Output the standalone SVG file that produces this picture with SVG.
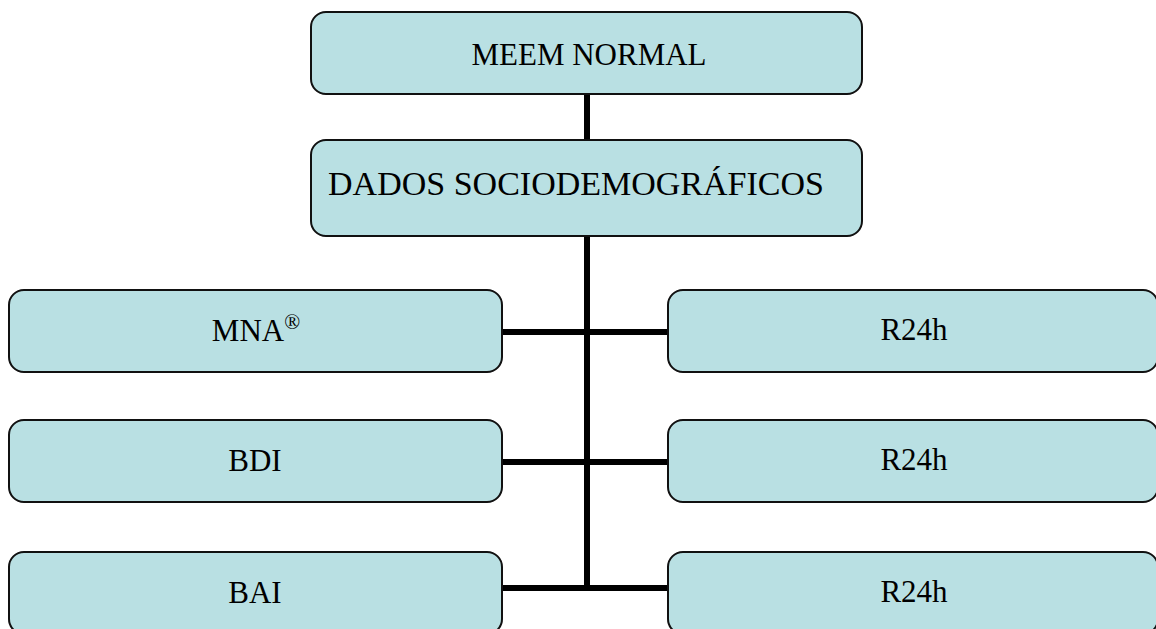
<svg xmlns="http://www.w3.org/2000/svg" width="1156" height="629" viewBox="0 0 1156 629">
<style>
.box{fill:#b9e0e3;stroke:#111;stroke-width:2}
.t{font-family:"Liberation Serif","Times New Roman",serif;font-size:31px;fill:#000;text-anchor:middle}
.big{font-size:34px}
.line{stroke:#000;stroke-width:6;fill:none}
</style>
<rect width="1156" height="629" fill="#fff"/>
<g id="connectors">
<line class="line" x1="587" y1="94" x2="587" y2="140"/>
<line class="line" x1="587" y1="236" x2="587" y2="591"/>
<line class="line" x1="502" y1="332" x2="668" y2="332"/>
<line class="line" x1="502" y1="462" x2="668" y2="462"/>
<line class="line" x1="502" y1="588" x2="668" y2="588"/>
</g>
<g id="meem">
<rect class="box" x="311" y="12" width="551" height="82" rx="15"/>
<text class="t" x="589" y="65">MEEM NORMAL</text>
</g>
<g id="dados">
<rect class="box" x="311" y="140" width="551" height="96" rx="15"/>
<text class="t big" x="576" y="195">DADOS SOCIODEMOGRÁFICOS</text>
</g>
<g id="mna">
<rect class="box" x="9" y="290" width="493" height="82" rx="15"/>
<text class="t" x="256" y="341">MNA<tspan font-size="21" dy="-12">®</tspan></text>
</g>
<g id="bdi">
<rect class="box" x="9" y="420" width="493" height="82" rx="15"/>
<text class="t" x="255" y="471">BDI</text>
</g>
<g id="bai">
<rect class="box" x="9" y="552" width="493" height="82" rx="15"/>
<text class="t" x="255" y="603">BAI</text>
</g>
<g id="r24h1">
<rect class="box" x="668" y="290" width="490" height="82" rx="15"/>
<text class="t" x="914" y="340">R24h</text>
</g>
<g id="r24h2">
<rect class="box" x="668" y="420" width="490" height="82" rx="15"/>
<text class="t" x="914" y="470">R24h</text>
</g>
<g id="r24h3">
<rect class="box" x="668" y="552" width="490" height="82" rx="15"/>
<text class="t" x="914" y="602">R24h</text>
</g>
</svg>
